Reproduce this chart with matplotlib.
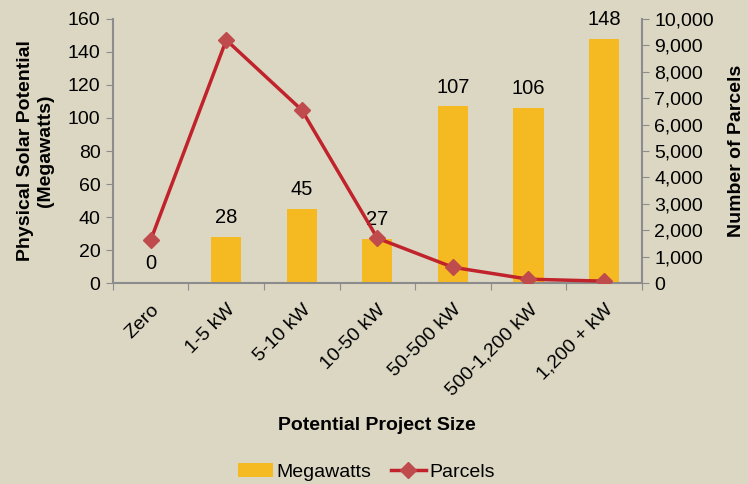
import matplotlib
matplotlib.use("Agg")
import matplotlib.pyplot as plt
import numpy as np

categories = ["Zero", "1-5 kW", "5-10 kW", "10-50 kW", "50-500 kW", "500-1,200 kW", "1,200 + kW"]
megawatts = [0, 28, 45, 27, 107, 106, 148]
parcels = [1630, 9200, 6550, 1700, 600, 150, 75]

plt.rcParams['font.family'] = ['Liberation Sans', 'DejaVu Sans']
bg = "#dcd7c3"
bar_c = "#f5b922"
line_c = "#c0232b"
mark_c = "#bf4b4d"
spine_c = "#8c8c8c"

fig = plt.figure(figsize=(7.48, 4.84), dpi=100, facecolor=bg)
ax = fig.add_axes([0.151, 0.415, 0.707, 0.546])
ax.set_facecolor(bg)
x = np.arange(len(categories))
bars = ax.bar(x, megawatts, width=0.4, color=bar_c, label="Megawatts", zorder=2)
for xi, v in zip(x, megawatts):
    ax.annotate(str(v), (xi, v), xytext=(0, 7), textcoords="offset points",
                ha="center", va="bottom", fontsize=14.5)
ax.set_xlim(-0.5, len(categories) - 0.5)
ax.set_ylim(0, 160)
ax.set_yticks(np.arange(0, 161, 20))
ax.set_xticks(np.arange(-0.5, len(categories), 1.0))
ax.set_xticklabels([])
ax.set_xticks(x, minor=True)
ax.set_xticklabels(categories, minor=True, rotation=45, ha="right", rotation_mode="anchor", fontsize=14)
ax.tick_params(axis="x", which="minor", length=0, pad=13)
ax.tick_params(axis="x", which="major", length=5, color=spine_c, direction="out")
ax.tick_params(axis="y", length=5, color=spine_c, labelsize=14, pad=4)
for s in ["top", "right"]:
    ax.spines[s].set_visible(False)
for s in ["left", "bottom"]:
    ax.spines[s].set_color(spine_c)
    ax.spines[s].set_linewidth(1.5)
ax.set_ylabel("Physical Solar Potential\n(Megawatts)", fontsize=14, fontweight="bold",
              linespacing=1.2, labelpad=10)
ax.set_xlabel("Potential Project Size", fontsize=14, fontweight="bold", labelpad=13)

ax2 = ax.twinx()
ln, = ax2.plot(x, parcels, color=line_c, lw=2.5, marker="D", markersize=8,
               markerfacecolor=mark_c, markeredgecolor=mark_c, label="Parcels", zorder=3)
ax2.set_ylim(0, 10000)
ax2.set_yticks(np.arange(0, 10001, 1000))
ax2.set_yticklabels([f"{v:,}" for v in range(0, 10001, 1000)])
ax2.tick_params(axis="y", length=5, color=spine_c, labelsize=14, pad=4)
for s in ["top", "left", "bottom"]:
    ax2.spines[s].set_visible(False)
ax2.spines["right"].set_color(spine_c)
ax2.spines["right"].set_linewidth(1.5)
ax2.set_ylabel("Number of Parcels", fontsize=14, fontweight="bold", labelpad=10)

fig.legend([bars, ln], ["Megawatts", "Parcels"], loc="center", bbox_to_anchor=(0.49, 0.025),
           ncol=2, frameon=False, fontsize=14, handlelength=1.8, columnspacing=1.0,
           handletextpad=0.2)
fig.savefig("out.png", dpi=100, facecolor=bg)
